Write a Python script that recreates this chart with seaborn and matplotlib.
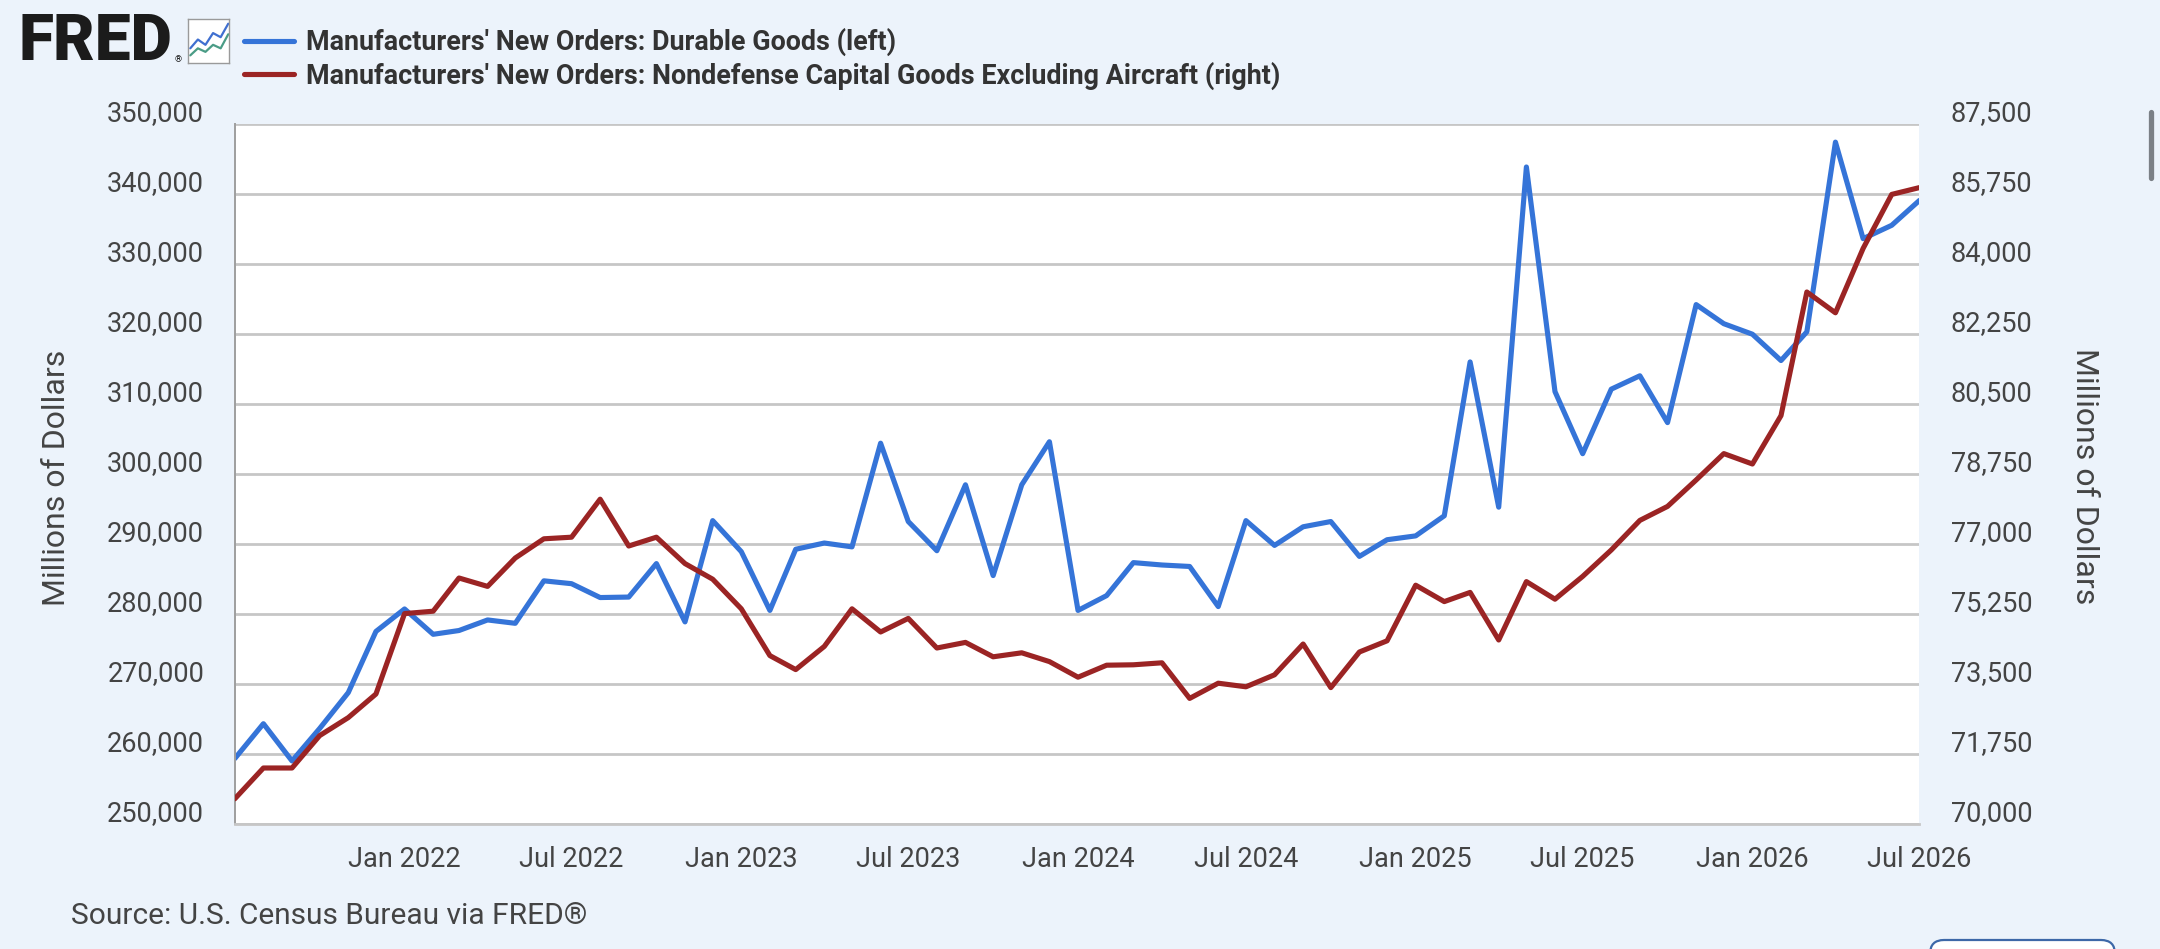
import pandas as pd
import matplotlib.pyplot as plt
import matplotlib.dates as mdates
import matplotlib.transforms as mtransforms
from matplotlib.lines import Line2D
from matplotlib.patches import FancyBboxPatch
import seaborn as sns

# monthly values, Jul 2021 - Jul 2026 (millions of dollars)
months = pd.date_range("2021-07-01", "2026-07-01", freq="MS")
durable_goods = [
    259350, 264330, 259010, 263650, 268770, 277510, 280720, 277100, 277640, 279150,
    278670, 284740, 284330, 282350, 282420, 287200, 278870, 293340, 288910, 280510,
    289250, 290140, 289590, 304400, 293210, 289040, 298460, 285490, 298460, 304610,
    280510, 282630, 287340, 287000, 286790, 281060, 293340, 289800, 292460, 293210,
    288230, 290610, 291160, 294030, 316010, 295260, 343860, 311770, 302900, 312120,
    314030, 307340, 324200, 321470, 319970, 316210, 320310, 347410, 333620, 335530,
    339080,
]
core_capital_goods = [
    70630, 71400, 71400, 72210, 72660, 73250, 75260, 75320, 76150, 75940,
    76650, 77130, 77170, 78120, 76950, 77170, 76510, 76120, 75380, 74210,
    73860, 74440, 75380, 74800, 75140, 74400, 74540, 74180, 74280, 74060,
    73670, 73970, 73980, 74030, 73140, 73520, 73430, 73730, 74500, 73410,
    74300, 74580, 75970, 75560, 75790, 74600, 76060, 75620, 76190, 76850,
    77590, 77940, 78600, 79260, 79000, 80210, 83300, 82780, 84390, 85740,
    85910,
]
left_ticks = [250000, 260000, 270000, 280000, 290000, 300000,
              310000, 320000, 330000, 340000, 350000]
right_ticks = [70000, 71750, 73500, 75250, 77000, 78750,
               80500, 82250, 84000, 85750, 87500]
x_ticks = pd.date_range("2022-01-01", "2026-07-01", freq="6MS")

label_left = "Manufacturers' New Orders: Durable Goods (left)"
label_right = "Manufacturers' New Orders: Nondefense Capital Goods Excluding Aircraft (right)"

df = pd.DataFrame({"date": months, "durable": durable_goods, "capital": core_capital_goods})

BG = "#ecf3fb"
BLUE = "#3574d8"
RED = "#9b2424"
GRID = "#c6c6c6"
TXT = "#444444"

sns.set_theme(style="white")
plt.rcParams["font.family"] = ["Roboto", "DejaVu Sans"]

W, H = 2160, 949
fig = plt.figure(figsize=(W / 100, H / 100), dpi=100, facecolor=BG)
ax = fig.add_axes([234.8 / W, 1 - 824 / H, (1919.4 - 234.8) / W, 700 / H])
ax.set_facecolor("white")
ax2 = ax.twinx()

sns.lineplot(data=df, x="date", y="durable", ax=ax, color=BLUE, linewidth=3.7,
             solid_joinstyle="round", label=label_left, legend=False)
sns.lineplot(data=df, x="date", y="capital", ax=ax2, color=RED, linewidth=3.7,
             solid_joinstyle="round", label=label_right, legend=False)

ax.set_xlim(months[0], months[-1])
ax.set_ylim(left_ticks[0], left_ticks[-1])
ax2.set_ylim(right_ticks[0], right_ticks[-1])
for a in (ax, ax2):
    a.set_xlabel("")
    a.set_ylabel("")

ax.set_yticks(left_ticks)
ax.set_yticklabels([f"{v:,}" for v in left_ticks])
ax2.set_yticks(right_ticks)
ax2.set_yticklabels([f"{v:,}" for v in right_ticks])
ax.grid(axis="y", color=GRID, linewidth=2.0)
ax.set_axisbelow(True)

ax.set_xticks(x_ticks)
ax.xaxis.set_major_formatter(mdates.DateFormatter("%b %Y"))
ax.tick_params(axis="x", direction="out", length=13, width=1, color="#ccd6eb",
               pad=2.5, labelsize=19.5, labelcolor=TXT)
ax.tick_params(axis="y", length=0, pad=22, labelsize=19.5, labelcolor=TXT)
ax2.tick_params(axis="y", length=0, pad=22.5, labelsize=19.5, labelcolor=TXT)

# y labels sit just above their gridlines
lift = mtransforms.ScaledTranslation(0, 3 / 100, fig.dpi_scale_trans)
for lbl in ax.get_yticklabels() + ax2.get_yticklabels():
    lbl.set_verticalalignment("baseline")
    lbl.set_transform(lbl.get_transform() + lift)

for a in (ax, ax2):
    a.spines["top"].set_visible(False)
    a.spines["right"].set_visible(False)
    a.spines["left"].set_visible(False)
ax.spines["left"].set_visible(True)
ax.spines["left"].set_color("#9e9e9e")
ax.spines["left"].set_linewidth(1.4)
ax.spines["bottom"].set_color(GRID)
ax.spines["bottom"].set_linewidth(2.0)
ax2.spines["bottom"].set_visible(False)

fig.text(56.5 / W, 1 - 478 / H, "Millions of Dollars", rotation=90, ha="center",
         va="center", fontsize=23, color=TXT)
fig.text(2084 / W, 1 - 476 / H, "Millions of Dollars", rotation=270, ha="center",
         va="center", fontsize=23, color=TXT)

# legend at the top
handles = [ax.get_lines()[0], ax2.get_lines()[0]]
fig.legend(handles=handles, labels=[label_left, label_right], loc="upper left",
           bbox_to_anchor=(244 / W, 1 - 28 / H), frameon=False, borderpad=0,
           borderaxespad=0, handlelength=1.85, handletextpad=0.45, labelspacing=0.2,
           prop={"weight": "bold", "size": 19.4}, labelcolor="#333333")

# FRED logo
fig.text(18 / W, 1 - 42 / H, "FRED", fontsize=46, fontweight="heavy", color="#1b1b1b",
         va="center", ha="left")
fig.text(175 / W, 1 - 60 / H, "®", fontsize=6.5, color="#1b1b1b", va="center")
icon = fig.add_axes([188 / W, 1 - 63 / H, 41 / W, 44 / H])
icon.set_facecolor("white")
icon_blue = [2.0, 3.5, 2.6, 4.6, 3.9, 6.2]
icon_green = [0.8, 2.0, 1.4, 2.6, 2.0, 4.4]
icon.plot(icon_blue, color="#3f6fd0", lw=1.6)
icon.plot(icon_green, color="#4a9c86", lw=1.6)
icon.set_xlim(-0.3, 5.1)
icon.set_ylim(-0.5, 7)
icon.set_xticks([])
icon.set_yticks([])
for s in icon.spines.values():
    s.set_color("#9a9a9a")
    s.set_linewidth(1)

fig.text(71 / W, 1 - 916 / H, "Source: U.S. Census Bureau via FRED®", fontsize=21.5,
         color=TXT, va="center", ha="left")

# page chrome: scrollbar and a button peeking in at the bottom
fig.add_artist(Line2D([2150.5 / W, 2150.5 / W], [1 - 112 / H, 1 - 178 / H],
                      color="#7b8086", lw=3.8, solid_capstyle="round"))
fig.add_artist(FancyBboxPatch((1930, -40), 185, 49, boxstyle="round,pad=0,rounding_size=14",
                              transform=mtransforms.IdentityTransform(),
                              facecolor="white", edgecolor="#3d68a8", linewidth=1.6))

fig.savefig("out.png", dpi=100, facecolor=fig.get_facecolor())
